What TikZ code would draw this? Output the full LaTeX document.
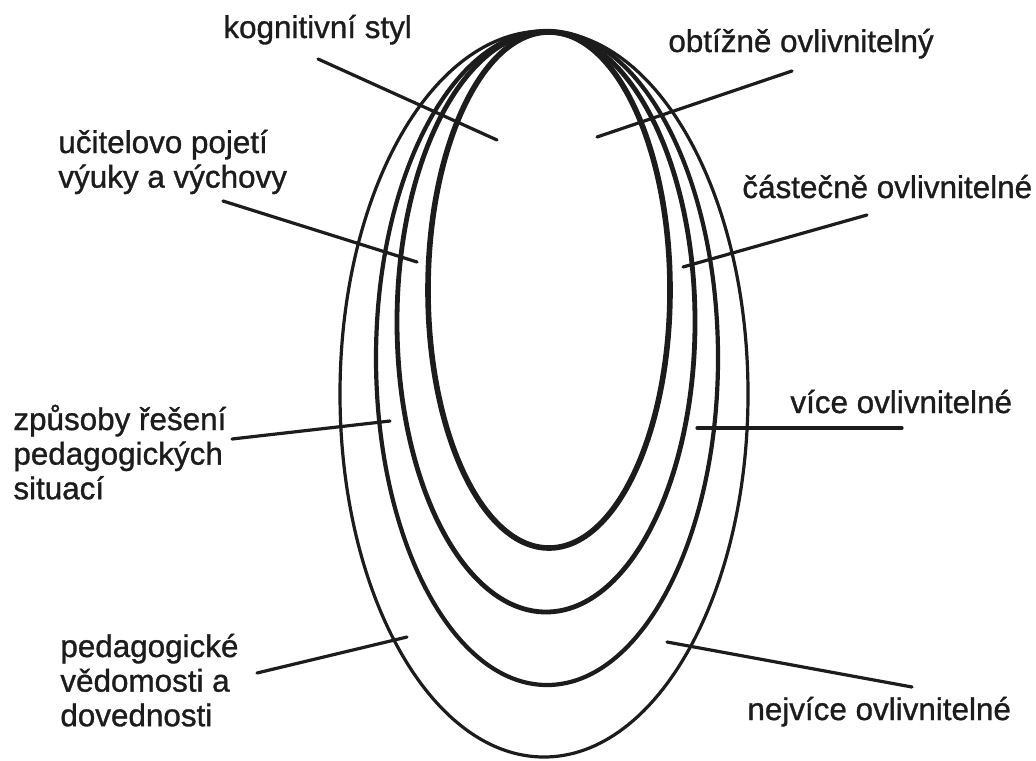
\documentclass[tikz,border=0pt]{standalone}
\usepackage{fontspec}
\setmainfont{Liberation Sans}
\newfontfamily\lblfont{Liberation Sans}[BoldFont=Liberation Sans, BoldFeatures={FakeBold=1}]
\usetikzlibrary{shapes.geometric}
\definecolor{ink}{RGB}{28,28,28}
\begin{document}
\begin{tikzpicture}[x=0.5pt,y=-0.5pt,
  ring/.style={draw=ink, ellipse, inner sep=0pt, outer sep=0pt},
  leader/.style={draw=ink, line width=1.6pt, line cap=round},
  lbl/.style={anchor=base west, inner sep=0pt, text=ink,
    font=\lblfont\bfseries\fontsize{15.7pt}{17.3pt}\selectfont}]
\useasboundingbox (0,0) rectangle (1036,760);
\fill[white] (0,0) rectangle (1036,760);
% nested rings
\node[ring, line width=1.6pt, minimum width=204pt, minimum height=363pt] (e4) at (544,394) {};
\node[ring, line width=2.1pt, minimum width=171pt, minimum height=327pt] (e3) at (547,358) {};
\node[ring, line width=2.4pt, minimum width=149pt, minimum height=290pt] (e2) at (546,322) {};
\node[ring, line width=2.8pt, minimum width=121pt, minimum height=258pt] (e1) at (549,290) {};
% labels
\node[lbl] (kog) at (223,38) {kognitivní styl};
\node[lbl] (obt) at (668,52) {obtížně ovlivnitelný};
\node[lbl] (cas) at (742,198) {částečně ovlivnitelné};
\node[lbl] (uci) at (58,153) {\vtop{\hbox{učitelovo pojetí}\hbox{výuky a výchovy}}};
\node[lbl] (zpu) at (13,430) {\vtop{\hbox{způsoby řešení}\hbox{pedagogických}\hbox{situací}}};
\node[lbl] (ped) at (60,657) {\vtop{\hbox{pedagogické}\hbox{vědomosti a}\hbox{dovednosti}}};
\node[lbl] (vic) at (790,413) {více ovlivnitelné};
\node[lbl] (nej) at (747,720) {nejvíce ovlivnitelné};
% leader end points
\coordinate (kogA) at (318,59);  \coordinate (kogB) at (497,140);
\coordinate (obtA) at (792,71);  \coordinate (obtB) at (597,137);
\coordinate (casA) at (867,215); \coordinate (casB) at (683,267);
\coordinate (uciA) at (223,201); \coordinate (uciB) at (417,262);
\coordinate (zpuA) at (232,439); \coordinate (zpuB) at (390,421);
\coordinate (pedA) at (257,673); \coordinate (pedB) at (407,637);
\coordinate (vicA) at (902,428); \coordinate (vicB) at (697,428);
\coordinate (nejA) at (912,687); \coordinate (nejB) at (667,642);
\foreach \n in {kog,obt,cas,uci,zpu,ped,vic,nej}
  \draw[leader] (\n A) -- (\n B);
\end{tikzpicture}
\end{document}
